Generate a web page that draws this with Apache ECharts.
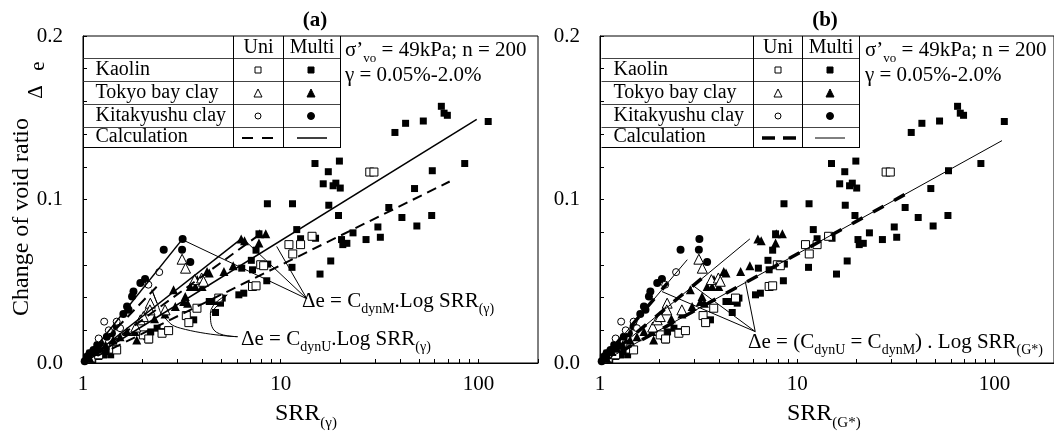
<!DOCTYPE html>
<html><head><meta charset="utf-8">
<script src="https://cdn.jsdelivr.net/npm/echarts@6/dist/echarts.min.js"></script>
<style>html,body{margin:0;padding:0;background:#fff}#c{width:1054px;height:432px}</style>
</head><body><div id="c"></div>
<script>
const FONT = '"Liberation Serif","Times New Roman",serif';

const kaolinMulti = [[1.04,0.003],[1.085,0.006],[1.12,0.002],[1.17,0.008],[1.2,0.004],[1.27,0.0049],[1.32,0.007],[1.38,0.005],
  [2.1,0.0161],[2.15,0.0141],[2.37,0.0213],[2.51,0.0192],[2.71,0.0202],[2.2,0.019],
  [3.63,0.0264],[4.68,0.0309],[4.35,0.0376],[4.59,0.0376],[4.96,0.0366],[5.06,0.0397],[6.14,0.0417],[6.5,0.0427],
  [6.35,0.058],[7.1,0.0628],[7.5,0.069],[7.76,0.079],[7.2,0.057],[8.6,0.0605],[8.5,0.0503],[8.56,0.0974],[11.47,0.0974],
  [12.05,0.0816],[12.6,0.076],[11.4,0.0585],[15.0,0.0763],[14.9,0.122],[15.8,0.0544],[17.9,0.0624],[16.4,0.1096],[17.4,0.117],
  [18.4,0.1084],[19.0,0.110],[20.0,0.107],[19.8,0.1235],[17.5,0.0965],[19.6,0.0902],[20.3,0.0755],[20.6,0.0724],[21.6,0.0732],
  [23.2,0.0796],[27,0.0755],[31,0.0832],[31.9,0.0769],[35.2,0.0951],[37.8,0.141],[41,0.089],[42.8,0.1466],[47.5,0.1067],
  [48.8,0.0838],[52.6,0.148],[58,0.0902],[58.4,0.1176],[64.9,0.157],[67,0.1528],[69.6,0.1515],[85.2,0.122],[112,0.1477]];
const kaolinUni = [[1.1,0.003],[1.2,0.005],[1.42,0.0085],[1.48,0.008],[2.02,0.0172],[2.15,0.0147],[2.51,0.0182],[2.71,0.0198],
  [3.33,0.029],[3.43,0.0247],[3.77,0.0335],[4.86,0.0397],[7.2,0.0468],[7.5,0.0472],[7.92,0.0601],[8.2,0.0595],[11,0.0724],
  [11.5,0.0667],[12.6,0.0724],[14.4,0.0775],[28.2,0.1168],[29.6,0.1168]];
const tokyoMulti = [[1.08,0.003],[1.15,0.007],[1.22,0.009],[1.3,0.011],[1.42,0.0141],[1.54,0.016],[1.67,0.0192],[1.83,0.0192],
  [1.87,0.0141],[2.3,0.027],[2.6,0.03],[2.87,0.0448],[2.93,0.0345],[3.23,0.0376],[3.29,0.0407],[3.38,0.0366],[3.49,0.0468],
  [3.7,0.0468],[3.78,0.051],[4.0,0.0468],[4.24,0.056],[4.35,0.055],[5.16,0.056],[5.75,0.0595],[6.31,0.0759],[6.56,0.0748],
  [7.76,0.0734],[7.82,0.079],[8.4,0.079]];
const tokyoUni = [[1.85,0.022],[1.95,0.0264],[2.02,0.0284],[2.15,0.0335],[2.19,0.0366],[2.18,0.0325],[2.6,0.0325],
  [3.17,0.0635],[3.3,0.058],[3.67,0.051],[3.98,0.052],[4.07,0.05]];
const kitaMulti = [[1.02,0.001],[1.05,0.004],[1.08,0.006],[1.13,0.008],[1.18,0.011],[1.22,0.0121],[1.32,0.0161],[1.4,0.0182],
  [1.48,0.0223],[1.6,0.03],[1.67,0.0345],[1.7,0.0325],[1.77,0.0407],[1.8,0.0438],[1.95,0.0489],[2.06,0.0513],[2.56,0.0693],
  [3.17,0.0693],[3.19,0.0759],[3.49,0.0618]];
const kitaUni = [[1.2,0.015],[1.28,0.0253],[1.35,0.02],[1.48,0.0253],[1.54,0.0213],[2.14,0.0479],[2.43,0.0556]];

// calculation lines (end points) — panel (a)
const calcA_kitaM = [[1,0],[3.19,0.0759]];
const calcA_kitaU = [[1,0],[2.46,0.0489]];
const calcA_tokyoM = [[1,0],[6.4,0.0765]];
const calcA_tokyoU = [[1,0],[7.9,0.079]];
const calcA_kaolinM = [[1,0],[98,0.149]];
const calcA_kaolinU = [[1,0],[71.5,0.111]];
// panel (b)
const calcB_kitaM = [[1,0],[2.77,0.0632]];
const calcB_kitaU = [[1,0],[2.2,0.049]];
const calcB_tokyoM = [[1,0],[5.75,0.0759]];
const calcB_tokyoU = [[1,0],[3.3,0.052]];
const calcB_kaolinM = [[1,0],[109,0.136]];
const calcB_kaolinU = [[1,0],[35,0.103]];

// annotation arrows (data coordinates)
const arrA_M_start = [13.55,0.0393];
const arrA_M_ends = [[3.17,0.0755],[6.51,0.0755],[9.54,0.0713]];
const arrA_U_right = [[6.05,0.0161],[4.59,0.0202],[4.41,0.0305],[5.36,0.0417]];
const arrA_U_left = [[6.05,0.0161],[3.11,0.0213],[2.56,0.0284],[2.37,0.0366],[2.23,0.0448]];
const arrB_start = [6.12,0.0192];
const arrB_ends = [[2.06,0.0437],[2.92,0.0479],[5.45,0.0499]];

// axis ticks/labels
const xTicks = [1,2,3,4,5,6,7,8,9,10,20,30,40,50,60,70,80,90,100,200];
const xLabels = [1,10,100];
const yTicks = [0,0.02,0.04,0.06,0.08,0.1,0.12,0.14,0.16,0.18,0.2];
const yLabels = [0,0.1,0.2];

// ---- helpers ----
const mctx = document.createElement('canvas').getContext('2d');
function tw(t, s, bold){ mctx.font = (bold?'bold ':'') + s + 'px ' + FONT; return mctx.measureText(t).width; }
const elems = [];
function L(x1,y1,x2,y2,w,c,dash){ elems.push({type:'line', silent:true, z:100, shape:{x1,y1,x2,y2}, style:{stroke:c||'#000', lineWidth:w||1, lineDash:dash||null}}); }
function T(x,y,t,s,o){ o=o||{}; elems.push({type:'text', silent:true, z:100, x:x, y:y, rotation:o.rot||0,
  style:{text:t, font:(o.bold?'bold ':'')+s+'px '+FONT, fill:'#000', textAlign:o.align||'left', textVerticalAlign:'middle'}}); }
function RT(x, base, parts){ let cx=x; for (const p of parts){ const s=p[1], dy=p[2]||0; T(cx, base+dy-0.34*s, p[0], s); cx+=tw(p[0],s);} }
function sym(kind,cx,cy,filled,size){
  const style = filled ? {fill:'#000', stroke:'#000', lineWidth:1} : {fill:'#fff', stroke:'#000', lineWidth:1};
  let e;
  if(kind==='sq') e={type:'rect', shape:{x:cx-size/2,y:cy-size/2,width:size,height:size}};
  else if(kind==='tri') e={type:'polygon', shape:{points:[[cx,cy-size/2],[cx+size/2,cy+size/2],[cx-size/2,cy+size/2]]}};
  else e={type:'circle', shape:{cx:cx,cy:cy,r:size/2}};
  e.style=style; e.z=100; e.silent=true; elems.push(e);
}
function table(x0,c1,c2,r,uniX,multiX,bThick){
  const ys=[36.5,58.5,81.5,104.5,127.5,147.5];
  for(let i=1;i<ys.length-1;i++) L(x0,ys[i],r,ys[i],1,'#444');
  L(x0,ys[5],r,ys[5],1,'#000');
  L(r,36,r,148,1,'#000');
  L(c1,36,c1,148,1,'#000');
  L(c2,36,c2,148,1,'#000');
  T((c1+c2)/2, 55-0.34*20, 'Uni', 20, {align:'center'});
  T((c2+r)/2, 55-0.34*20, 'Multi', 20, {align:'center'});
  RT(x0+12, 77, [['Kaolin',20]]);
  RT(x0+12, 100, [['Tokyo bay clay',20]]);
  RT(x0+12, 123, [['Kitakyushu clay',20]]);
  RT(x0+12, 144, [['Calculation',20]]);
  sym('sq',uniX,70,false,6); sym('sq',multiX,70,true,6);
  sym('tri',uniX,93,false,8); sym('tri',multiX,93,true,8);
  sym('ci',uniX,116,false,6); sym('ci',multiX,116,true,7);
  if(bThick){ L(uniX-16,138,uniX-3,138,3.5); L(uniX+5,138,uniX+18,138,3.5); L(multiX-15,138,multiX+15,138,1); }
  else { L(uniX-16,138,uniX-5,138,2); L(uniX+4,138,uniX+15,138,2); L(multiX-14,138,multiX+16,138,1.5); }
}
table(83.5,233.5,283.5,340.5,258,311,false);
table(601.5,753.5,802.5,859.5,778,830,true);
T(315,21,'(a)',21,{bold:true,align:'center'});
T(825,21,'(b)',21,{bold:true,align:'center'});
[345,865].forEach(x=>{ RT(x,58,[['σ’',21],['vo',13,5],[' = 49kPa; n = 200',21]]); RT(x,83,[['γ = 0.05%-2.0%',21]]); });
RT(302,309,[['Δe = C',21],['dynM',14,5],['.Log SRR',21],['(γ)',14,5]]);
RT(241,347,[['Δe = C',21],['dynU',14,5],['.Log SRR',21],['(γ)',14,5]]);
RT(748,350,[['Δe = (C',21],['dynU',14,5],[' = C',21],['dynM',14,5],[') . Log SRR',21],['(G*)',14,5]]);
RT(275,422,[['SRR',24],['(γ)',15,6]]);
RT(787,422,[['SRR',24],['(G*)',15,6]]);
T(22,217,'Change of void ratio',24,{rot:Math.PI/2,align:'center'});
T(36,92,'Δ',21,{rot:Math.PI/2,align:'center'});
T(38,66,'e',21,{rot:Math.PI/2,align:'center'});

// ---- chart ----
const chart = echarts.init(document.getElementById('c'));
const grids = [{left:83,top:36,width:455,height:327},{left:600,top:36,width:455,height:327}]
  .map(g=>Object.assign(g,{show:true,borderColor:'#000',borderWidth:1,backgroundColor:'transparent'}));
const xAxes = [0,1].map(i=>({type:'log',logBase:10,gridIndex:i,min:1,max:200,
  axisLine:{lineStyle:{color:'#000',width:1}}, splitLine:{show:false}, minorTick:{show:false},
  axisTick:{inside:true,length:4,lineStyle:{color:'#000'},customValues:xTicks},
  axisLabel:{customValues:xLabels,fontFamily:FONT,fontSize:21,color:'#000',margin:11,formatter:v=>String(Math.round(v))}}));
const yAxes = [0,1].map(i=>({type:'value',gridIndex:i,min:0,max:0.2,interval:0.1,
  axisLine:{show:true,lineStyle:{color:'#000',width:1}}, splitLine:{show:false},
  axisTick:{inside:true,length:4,lineStyle:{color:'#000'},customValues:yTicks},
  axisLabel:{customValues:yLabels,fontFamily:FONT,fontSize:21,color:'#000',margin:20,formatter:v=>v.toFixed(1)}}));

const series = [];
function scat(i,data,symbol,size,filled){
  series.push({type:'scatter',xAxisIndex:i,yAxisIndex:i,data:data,symbol:symbol,symbolSize:size,silent:true,z:3,
    itemStyle: filled ? {color:'#000',opacity:1} : {color:'#fff',borderColor:'#000',borderWidth:1,opacity:1}});
}
function line(i,data,width,dash,extra){
  series.push(Object.assign({type:'line',xAxisIndex:i,yAxisIndex:i,data:data,symbol:'none',silent:true,z:4,
    lineStyle:{color:'#000',width:width,type:dash||'solid'}},extra||{}));
}
function arrowML(pairs){
  return {markLine:{silent:true,symbol:['none','arrow'],symbolSize:[0,8],animation:false,label:{show:false},
    lineStyle:{color:'#000',width:1,type:'solid'},
    data:pairs.map(p=>[{coord:p[0]},{coord:p[1]}])}};
}
[0,1].forEach(i=>{
  scat(i,kaolinMulti,'rect',7,true);
  scat(i,kaolinUni,'rect',8,false);
  scat(i,tokyoMulti,'triangle',9,true);
  scat(i,tokyoUni,'triangle',10,false);
  scat(i,kitaMulti,'circle',8,true);
  scat(i,kitaUni,'circle',7,false);
});
// panel (a)
line(0,calcA_kitaM,1.5);
line(0,calcA_tokyoM,1.5);
line(0,calcA_kaolinM,1.5, null, arrowML(arrA_M_ends.map(e=>[arrA_M_start,e])));
line(0,calcA_kitaU,2,[10,6]);
line(0,calcA_tokyoU,2,[10,6]);
line(0,calcA_kaolinU,2,[10,6]);
line(0,arrA_U_right,1,null,Object.assign({smooth:true},arrowML([[arrA_U_right[2],arrA_U_right[3]]])));
line(0,arrA_U_left,1,null,Object.assign({smooth:true},arrowML([[arrA_U_left[3],arrA_U_left[4]]])));
// panel (b)
line(1,calcB_kitaM,1);
line(1,calcB_tokyoM,1);
line(1,calcB_kaolinM,1, null, arrowML(arrB_ends.map(e=>[arrB_start,e])));
line(1,calcB_kitaU,3.5,[12,12]);
line(1,calcB_tokyoU,3.5,[12,12]);
line(1,calcB_kaolinU,3.5,[12,12]);

chart.setOption({animation:false,grid:grids,xAxis:xAxes,yAxis:yAxes,series:series,graphic:{elements:elems}});
</script></body></html>
